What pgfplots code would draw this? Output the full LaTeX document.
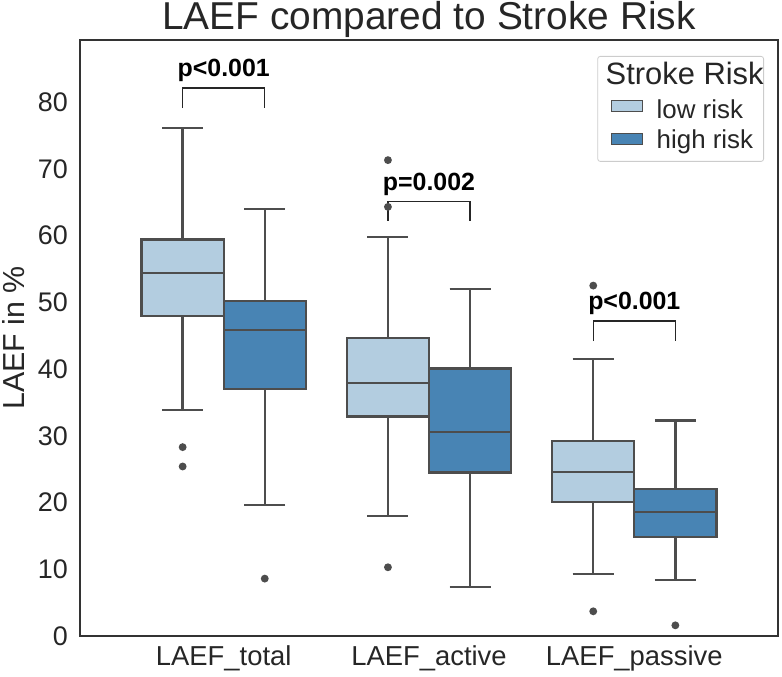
\documentclass[border=0pt]{standalone}
\usepackage{fontspec}
\setmainfont{Liberation Sans}
\usepackage{pgfplots}
\pgfplotsset{compat=1.18}
\usepgfplotslibrary{statistics}
\definecolor{lowc}{HTML}{B3CDE0}
\definecolor{highc}{HTML}{4884B4}
\definecolor{edge}{HTML}{4D4D4D}
\definecolor{spine}{HTML}{333333}
\definecolor{txt}{HTML}{262626}
\pgfplotsset{
  lowbox/.style={solid, fill=lowc, draw=edge, line width=2.3bp, mark=*, mark size=2.7bp, mark options={fill=edge, draw=edge}},
  highbox/.style={solid, fill=highc, draw=edge, line width=2.3bp, mark=*, mark size=2.7bp, mark options={fill=edge, draw=edge}},
}
\begin{document}
\begin{tikzpicture}
\begin{axis}[
  width=698bp, height=596bp, scale only axis,
  xmin=-0.7, xmax=2.7, ymin=0, ymax=89.3,
  xtick={0,1,2},
  xticklabels={LAEF\_total, LAEF\_active, LAEF\_passive},
  ytick={0,10,...,80},
  tick style={draw=none},
  axis line style={draw=spine, line width=1.3bp},
  /pgf/number format/assume math mode=true,
  ticklabel style={font=\fontsize{27}{32}\selectfont, text=txt},
  xticklabel style={anchor=base, inner sep=0pt, yshift=-29.3bp, font=\fontsize{27.5}{32}\selectfont},
  yticklabel style={anchor=east, inner sep=0pt, xshift=-12bp},
  every axis y label/.style={at={(axis description cs:-0.0788,0.5)}, rotate=90, anchor=base, inner sep=0pt},
  ylabel={LAEF in \%},
  ylabel style={font=\fontsize{30.5}{36}\selectfont, text=txt},
  every axis title/.style={at={(axis description cs:0.5,1)}, anchor=base, inner sep=0pt, yshift=10.7bp},
  title={LAEF compared to Stroke Risk},
  title style={font=\fontsize{39}{44}\selectfont, text=txt},
  boxplot/draw direction=y,
  boxplot/box extend=0.4,
  boxplot/whisker extend=0.2,
  legend style={at={(0.98854,0.98658)}, anchor=north east, xshift=-6bp, yshift=-8bp,
    draw=black!20, line width=0.8bp, rounded corners=2.5bp,
    font=\fontsize{26}{30}\selectfont, text=txt,
    inner sep=0pt, row sep=4bp, column sep=0pt,
    nodes={inner sep=0pt, text height=20bp, text depth=6bp},
    cells={anchor=base west}},
  legend cell align=left,
]
% legend (title row and the two hue patches)
\addlegendimage{empty legend}
\addlegendentry[text height=28bp, text depth=10bp]{\hspace{-51bp}\fontsize{31}{36}\selectfont Stroke Risk\hspace{8bp}}
\addlegendimage{legend image code/.code={\path[draw=none, fill=none] (0bp,0bp) rectangle (59bp,1bp); \draw[sharp corners, fill=lowc, draw=edge, line width=1.2bp] (14bp,0bp) rectangle (45bp,11bp);}}
\addlegendentry{low risk}
\addlegendimage{legend image code/.code={\path[draw=none, fill=none] (0bp,0bp) rectangle (59bp,1bp); \draw[sharp corners, fill=highc, draw=edge, line width=1.2bp] (14bp,0bp) rectangle (45bp,11bp);}}
\addlegendentry[text depth=13bp]{high risk}

% LAEF_total
\addplot+[lowbox, boxplot prepared={draw position=-0.2, lower whisker=33.9, lower quartile=47.9, median=54.4, upper quartile=59.4, upper whisker=76.1}]
  table[row sep=\\, y index=0] {data\\ 28.3\\ 25.4\\};
\addplot+[highbox, boxplot prepared={draw position=0.2, lower whisker=19.6, lower quartile=37.0, median=45.8, upper quartile=50.2, upper whisker=64.0}]
  table[row sep=\\, y index=0] {data\\ 8.6\\};
% LAEF_active
\addplot+[lowbox, boxplot prepared={draw position=0.8, lower whisker=18.0, lower quartile=32.9, median=37.9, upper quartile=44.6, upper whisker=59.8}]
  table[row sep=\\, y index=0] {data\\ 71.3\\ 64.3\\ 10.3\\};
\addplot+[highbox, boxplot prepared={draw position=1.2, lower whisker=7.3, lower quartile=24.5, median=30.6, upper quartile=40.1, upper whisker=52.0}]
  coordinates {};
% LAEF_passive
\addplot+[lowbox, boxplot prepared={draw position=1.8, lower whisker=9.3, lower quartile=20.1, median=24.6, upper quartile=29.2, upper whisker=41.5}]
  table[row sep=\\, y index=0] {data\\ 52.5\\ 3.7\\};
\addplot+[highbox, boxplot prepared={draw position=2.2, lower whisker=8.4, lower quartile=14.8, median=18.6, upper quartile=22.0, upper whisker=32.3}]
  table[row sep=\\, y index=0] {data\\ 1.6\\};

% significance brackets
\addplot[forget plot, black!85, line width=1.4bp, mark=none] coordinates {(-0.2,79.1) (-0.2,82.1) (0.2,82.1) (0.2,79.1)};
\addplot[forget plot, black!85, line width=1.4bp, mark=none] coordinates {(0.8,62.2) (0.8,65.1) (1.2,65.1) (1.2,62.2)};
\addplot[forget plot, black!85, line width=1.4bp, mark=none] coordinates {(1.8,44.2) (1.8,47.2) (2.2,47.2) (2.2,44.2)};
\node[font=\fontsize{25}{30}\selectfont\bfseries, anchor=base, inner sep=0pt] at (axis cs:0,83.8) {p<0.001};
\node[font=\fontsize{25}{30}\selectfont\bfseries, anchor=base, inner sep=0pt] at (axis cs:1,66.8) {p=0.002};
\node[font=\fontsize{25}{30}\selectfont\bfseries, anchor=base, inner sep=0pt] at (axis cs:2,48.9) {p<0.001};
\end{axis}
\path (current axis.south west) ++(-80bp,-40bp);
\path (current axis.north east) ++(4bp,40bp);
\end{tikzpicture}
\end{document}
